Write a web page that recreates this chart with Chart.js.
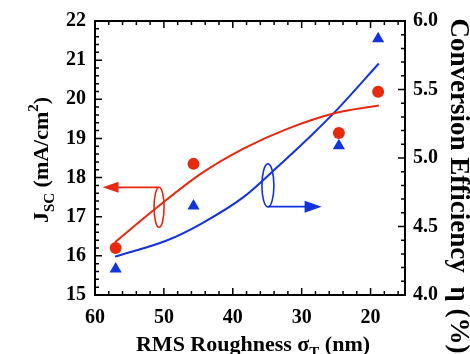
<!DOCTYPE html>
<html>
<head>
<meta charset="utf-8">
<script src="https://cdn.jsdelivr.net/npm/chart.js@4.4.1/dist/chart.umd.min.js"></script>
<style>
  html, body { margin: 0; padding: 0; background: #fff; }
  #wrap { width: 470px; height: 354px; }
</style>
</head>
<body>
<div id="wrap"><canvas id="c1" width="470" height="354"></canvas></div>
<script>
// measured points (x = RMS roughness, nm)
var roughness = [57, 45.7, 24.6, 18.9];
var jsc = [16.2, 18.35, 19.14, 20.19];          // mA/cm2, left axis
var roughnessEta = [57, 45.7, 24.6, 18.9];
var eta = [4.19, 4.65, 5.09, 5.87];             // %, right axis

// fitted curves
var fitJscX = [57.1, 50.7, 44.6, 38.3, 32, 25.1, 18.8];
var fitJscY = [16.35, 17.28, 18.1, 18.75, 19.25, 19.65, 19.84];
var fitEtaX = [57.1, 49.5, 44.6, 38.3, 33.4, 28.5, 25.1, 18.8];
var fitEtaY = [4.28, 4.40, 4.52, 4.72, 4.94, 5.17, 5.34, 5.69];

var xTicks = [60, 50, 40, 30, 20];
var yTicks = [15, 16, 17, 18, 19, 20, 21, 22];
var y2Ticks = [4.0, 4.5, 5.0, 5.5, 6.0];

// ellipse + arrow markers (data units)
var redMark = { x: 50.7, y: 17.24, tipX: 58.9, arrowY: 17.75 };
var blueMark = { x: 34.9, y: 4.80, tipX: 27.1, arrowY: 4.645 };

var RED = '#e8280f';
var BLUE = '#1233dd';
var FONT = "'Liberation Serif', 'Times New Roman', serif";

function pts(xs, ys) {
    return xs.map(function(x, i) { return { x: x, y: ys[i] }; });
}

var framePlugin = {
    id: 'frame',
    afterDraw: function(chart) {
        var ctx = chart.ctx, a = chart.chartArea;
        var sx = chart.scales.x, sy = chart.scales.y, sy2 = chart.scales.y2;
        ctx.save();
        ctx.strokeStyle = '#000';
        ctx.lineWidth = 2;
        ctx.strokeRect(a.left, a.top, a.right - a.left, a.bottom - a.top);
        ctx.lineWidth = 1.5;
        ctx.beginPath();
        var v, p, len;
        for (v = 16; v <= 60; v += 2) {
            p = sx.getPixelForValue(v);
            len = v % 10 === 0 ? 7 : 4;
            ctx.moveTo(p, a.bottom); ctx.lineTo(p, a.bottom - len);
            ctx.moveTo(p, a.top); ctx.lineTo(p, a.top + len);
        }
        for (v = 0; v <= 35; v++) {
            p = sy.getPixelForValue(15 + v * 0.2);
            len = v % 5 === 0 ? 7 : 4;
            ctx.moveTo(a.left, p); ctx.lineTo(a.left + len, p);
        }
        for (v = 0; v <= 20; v++) {
            p = sy2.getPixelForValue(4 + v * 0.1);
            len = v % 5 === 0 ? 7 : 4;
            ctx.moveTo(a.right, p); ctx.lineTo(a.right - len, p);
        }
        ctx.stroke();

        // axis titles
        ctx.fillStyle = '#000';
        ctx.textBaseline = 'alphabetic';
        // bottom
        var big = 'bold 22px ' + FONT, small = 'bold 15px ' + FONT;
        ctx.font = big;
        var w1 = ctx.measureText('RMS Roughness \u03c3').width;
        var w3 = ctx.measureText(' (nm)').width;
        ctx.font = small;
        var w2 = ctx.measureText('T').width;
        var x0 = (a.left + a.right) / 2 + 3 - (w1 + w2 + w3) / 2, yb = 351;
        ctx.font = big; ctx.fillText('RMS Roughness \u03c3', x0, yb);
        ctx.font = small; ctx.fillText('T', x0 + w1, yb + 6);
        ctx.font = big; ctx.fillText(' (nm)', x0 + w1 + w2, yb);

        // left
        ctx.save();
        ctx.translate(48, 160);
        ctx.rotate(-Math.PI / 2);
        var parts = [['J', big, 0], ['SC', small, 6], [' (mA/cm', big, 0], ['2', small, -10], [')', big, 0]];
        var tot = 0;
        parts.forEach(function(q) { ctx.font = q[1]; q.w = ctx.measureText(q[0]).width; tot += q.w; });
        var cx = -tot / 2;
        parts.forEach(function(q) { ctx.font = q[1]; ctx.fillText(q[0], cx, q[2]); cx += q.w; });
        ctx.restore();

        // right
        ctx.save();
        ctx.translate(451, 186);
        ctx.rotate(Math.PI / 2);
        ctx.font = 'bold 27px ' + FONT;
        ctx.textAlign = 'center';
        ctx.fillText('Conversion Efficiency  \u03b7 (%)', 0, 0);
        ctx.restore();
        ctx.restore();
    }
};

function arrowHead(ctx, x, y, dir, len, half) {
    ctx.beginPath();
    ctx.moveTo(x, y);
    ctx.lineTo(x - dir * len, y - half);
    ctx.lineTo(x - dir * len, y + half);
    ctx.closePath();
    ctx.fill();
}

var markPlugin = {
    id: 'marks',
    afterDatasetsDraw: function(chart) {
        var ctx = chart.ctx, sx = chart.scales.x;
        ctx.save();
        ctx.lineWidth = 1.6;
        // red: ellipse, arrow to left axis
        var ex = sx.getPixelForValue(redMark.x), ey = chart.scales.y.getPixelForValue(redMark.y);
        var ay = chart.scales.y.getPixelForValue(redMark.arrowY), tx = sx.getPixelForValue(redMark.tipX);
        ctx.strokeStyle = RED; ctx.fillStyle = RED;
        ctx.beginPath(); ctx.ellipse(ex, ey, 5, 20, 0, 0, Math.PI * 2); ctx.stroke();
        ctx.beginPath(); ctx.moveTo(ex, ay); ctx.lineTo(tx + 10, ay); ctx.stroke();
        arrowHead(ctx, tx, ay, -1, 16, 5.5);
        // blue: ellipse, arrow to right axis
        ex = sx.getPixelForValue(blueMark.x); ey = chart.scales.y2.getPixelForValue(blueMark.y);
        ay = chart.scales.y2.getPixelForValue(blueMark.arrowY); tx = sx.getPixelForValue(blueMark.tipX);
        ctx.strokeStyle = BLUE; ctx.fillStyle = BLUE;
        ctx.beginPath(); ctx.ellipse(ex, ey, 6, 21.5, 0, 0, Math.PI * 2); ctx.stroke();
        ctx.beginPath(); ctx.moveTo(ex, ay); ctx.lineTo(tx - 10, ay); ctx.stroke();
        arrowHead(ctx, tx, ay, 1, 17, 6);
        ctx.restore();
    }
};

var tickFont = { family: FONT, size: 20, weight: 'bold' };

new Chart(document.getElementById('c1'), {
    type: 'scatter',
    data: {
        datasets: [{
            type: 'line',
            data: pts(fitJscX, fitJscY),
            yAxisID: 'y',
            borderColor: RED,
            borderWidth: 2,
            pointRadius: 0,
            cubicInterpolationMode: 'monotone',
            fill: false
        }, {
            type: 'line',
            data: pts(fitEtaX, fitEtaY),
            yAxisID: 'y2',
            borderColor: BLUE,
            borderWidth: 2,
            pointRadius: 0,
            cubicInterpolationMode: 'monotone',
            fill: false
        }, {
            data: pts(roughness, jsc),
            yAxisID: 'y',
            pointStyle: 'circle',
            pointRadius: 6,
            backgroundColor: RED,
            borderColor: RED,
            borderWidth: 0
        }, {
            data: pts(roughnessEta, eta),
            yAxisID: 'y2',
            pointStyle: 'triangle',
            pointRadius: 7,
            backgroundColor: BLUE,
            borderColor: BLUE,
            borderWidth: 0
        }]
    },
    options: {
        responsive: false,
        animation: false,
        layout: { padding: { top: 19, left: 0, right: 0, bottom: 0 } },
        plugins: { legend: { display: false }, tooltip: { enabled: false } },
        scales: {
            x: {
                type: 'linear',
                reverse: true,
                min: 15,
                max: 60,
                grid: { display: false, drawTicks: false },
                border: { display: false },
                afterBuildTicks: function(s) { s.ticks = xTicks.map(function(v) { return { value: v }; }); },
                afterFit: function(s) { s.height = 59; },
                ticks: { font: tickFont, color: '#000', padding: 11, maxRotation: 0 }
            },
            y: {
                position: 'left',
                min: 15,
                max: 22,
                grid: { display: false, drawTicks: false },
                border: { display: false },
                afterBuildTicks: function(s) { s.ticks = yTicks.map(function(v) { return { value: v }; }); },
                afterFit: function(s) { s.width = 95; },
                ticks: { font: tickFont, color: '#000', padding: 9 }
            },
            y2: {
                position: 'right',
                min: 4,
                max: 6,
                grid: { display: false, drawTicks: false },
                border: { display: false },
                afterBuildTicks: function(s) { s.ticks = y2Ticks.map(function(v) { return { value: v }; }); },
                afterFit: function(s) { s.width = 65; },
                ticks: {
                    font: tickFont, color: '#000', padding: 8,
                    callback: function(v) { return Number(v).toFixed(1); }
                }
            }
        }
    },
    plugins: [framePlugin, markPlugin]
});
</script>
</body>
</html>
